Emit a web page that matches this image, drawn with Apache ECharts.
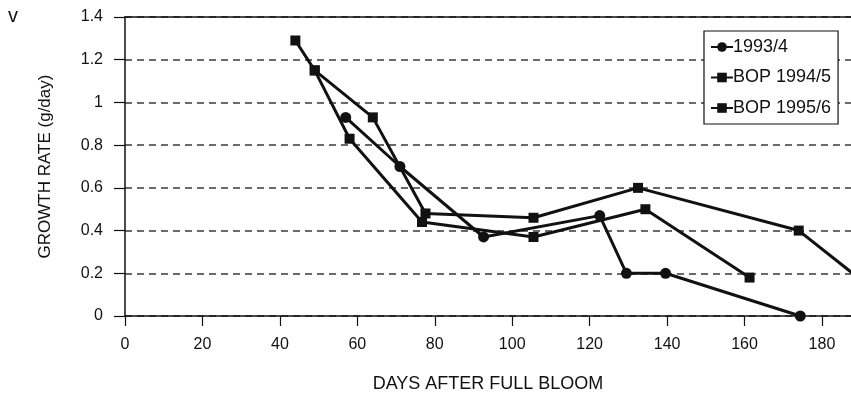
<!DOCTYPE html>
<html>
<head>
<meta charset="utf-8">
<script src="https://cdn.jsdelivr.net/npm/echarts@6/dist/echarts.min.js"></script>
<style>
html,body{margin:0;padding:0;background:#fff;}
#chart{width:851px;height:395px;}
</style>
</head>
<body>
<div id="chart"></div>
<script>
// ---- data (days after full bloom, growth rate g/day) ----
const seriesNames = ["1993/4", "BOP 1994/5", "BOP 1995/6"];
const s1993Days = [57, 71, 92.6, 122.6, 129.5, 139.6, 174.4];
const s1993Rate = [0.93, 0.70, 0.37, 0.47, 0.20, 0.20, 0.00];
const s1994Days = [44, 49, 58, 76.7, 105.5, 134.4, 161.3];
const s1994Rate = [1.29, 1.15, 0.83, 0.44, 0.37, 0.50, 0.18];
const s1995Days = [49, 64, 77.6, 105.5, 132.5, 174, 190];
const s1995Rate = [1.15, 0.93, 0.48, 0.46, 0.60, 0.40, 0.17];
const xTicks = [0, 20, 40, 60, 80, 100, 120, 140, 160, 180];
const yTicks = [0, 0.2, 0.4, 0.6, 0.8, 1, 1.2, 1.4];

const pairs = (xs, ys) => xs.map((x, i) => [x, ys[i]]);
const ink = '#111';
const font = 'Liberation Sans, Arial, sans-serif';

const chart = echarts.init(document.getElementById('chart'), null, {renderer: 'canvas'});

function lineSeries(name, data, symbol, size) {
  return {
    name: name, type: 'line', data: data,
    symbol: symbol, symbolSize: size,
    lineStyle: {color: ink, width: 3},
    itemStyle: {color: ink},
    clip: true, animation: false, z: 5
  };
}

chart.setOption({
  backgroundColor: '#fff',
  animation: false,
  grid: {left: 125, top: 17, right: 0, bottom: 79, containLabel: false, outerBoundsMode: 'none'},
  xAxis: [{
    type: 'value', min: 0, max: 187.5, interval: 20,
    name: 'DAYS AFTER FULL BLOOM', nameLocation: 'middle', nameGap: 59,
    nameTextStyle: {color: ink, fontFamily: font, fontSize: 18},
    axisLine: {show: true, lineStyle: {color: ink, width: 1.5}},
    axisTick: {show: true, inside: false, length: 10, lineStyle: {color: ink, width: 1.2}},
    axisLabel: {color: ink, fontFamily: font, fontSize: 16, margin: 21, showMaxLabel: false,
      formatter: v => xTicks.indexOf(v) >= 0 ? String(v) : ''},
    splitLine: {show: false}
  }, {
    type: 'value', position: 'top', min: 0, max: 187.5,
    axisLine: {show: true, onZero: false, lineStyle: {color: ink, width: 1.5}},
    axisTick: {show: false}, axisLabel: {show: false}, splitLine: {show: false}
  }],
  yAxis: {
    type: 'value', min: 0, max: 1.4, interval: 0.2,
    name: 'GROWTH RATE (g/day)', nameLocation: 'middle', nameGap: 71,
    nameTextStyle: {color: ink, fontFamily: font, fontSize: 17},
    axisLine: {show: true, lineStyle: {color: ink, width: 1.5}},
    axisTick: {show: true, length: 11, lineStyle: {color: ink, width: 1.2}},
    axisLabel: {color: ink, fontFamily: font, fontSize: 16, margin: 22,
      formatter: v => { const t = yTicks.find(k => Math.abs(k - v) < 1e-6); return t === undefined ? '' : String(t); }},
    splitLine: {show: true, lineStyle: {color: '#3a3a3a', width: 1.5, type: [7, 5]}}
  },
  legend: {
    orient: 'vertical', left: 704, top: 31,
    backgroundColor: '#fff', borderColor: ink, borderWidth: 1.2,
    padding: [7, 7, 7, 6], itemGap: 12.5,
    itemWidth: 22, itemHeight: 12,
    textStyle: {color: ink, fontFamily: font, fontSize: 18, padding: [0, 0, 0, -5], lineHeight: 18},
    data: seriesNames
  },
  graphic: [{
    type: 'text', left: 8, top: 6,
    style: {text: 'v', fill: ink, font: '20px ' + font}
  }],
  series: [
    lineSeries(seriesNames[0], pairs(s1993Days, s1993Rate), 'circle', 11),
    lineSeries(seriesNames[1], pairs(s1994Days, s1994Rate), 'rect', 10),
    lineSeries(seriesNames[2], pairs(s1995Days, s1995Rate), 'rect', 10)
  ]
});
</script>
</body>
</html>
